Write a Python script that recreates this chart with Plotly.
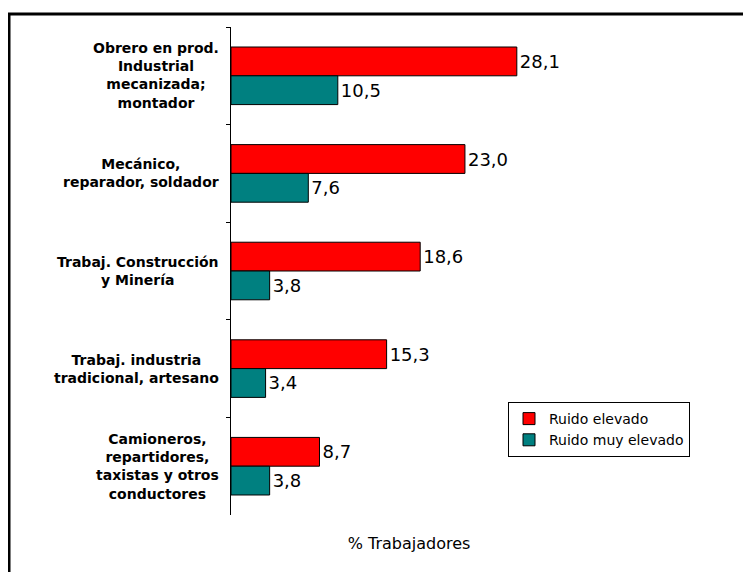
import plotly.graph_objects as go

categories = [
    "Obrero en prod.<br>Industrial<br>mecanizada;<br>montador",
    "Mecánico,<br>reparador, soldador",
    "Trabaj. Construcción<br>y Minería",
    "Trabaj. industria<br>tradicional, artesano",
    "Camioneros,<br>repartidores,<br>taxistas y otros<br>conductores",
]
ruido_elevado = [28.1, 23.0, 18.6, 15.3, 8.7]
ruido_muy_elevado = [10.5, 7.6, 3.8, 3.4, 3.8]
series_names = ["Ruido elevado", "Ruido muy elevado"]
x_title = "% Trabajadores"

def fmt(v):
    return f"{v:.1f}".replace(".", ",")

# page body has an 8px margin, so the figure is 8px smaller than the window
W, H = 743, 564
ML, MR, MT, MB = 223, 164, 19, 57
pw = W - ML - MR
ph = H - MT - MB

fig = go.Figure()
for name, vals, col in [(series_names[0], ruido_elevado, "#FF0000"),
                        (series_names[1], ruido_muy_elevado, "#008080")]:
    fig.add_trace(go.Bar(
        y=categories, x=vals, name=name, orientation="h",
        marker=dict(color=col, line=dict(color="#000000", width=1)),
        text=[fmt(v) for v in vals], textposition="outside",
        textfont=dict(family="DejaVu Sans", size=18, color="#000000"),
        cliponaxis=False,
    ))

fig.update_layout(
    width=W, height=H,
    margin=dict(l=ML, r=MR, t=MT, b=MB),
    paper_bgcolor="white", plot_bgcolor="white",
    barmode="group", bargap=0.41, bargroupgap=0,
    font=dict(family="DejaVu Sans", color="#000000"),
    legend=dict(
        x=(508 - 8 - ML) / pw, y=(H - MB - (402 - 8)) / ph, xanchor="left", yanchor="top",
        bordercolor="#000000", borderwidth=1, bgcolor="white",
        font=dict(family="DejaVu Sans", size=14),
        tracegroupgap=0, itemwidth=30,
    ),
    showlegend=True,
)
fig.update_xaxes(
    range=[0, 35], showline=False, showgrid=False, zeroline=False,
    showticklabels=False, ticks="",
    title=dict(text=x_title, font=dict(family="DejaVu Sans", size=16), standoff=22),
)
fig.update_yaxes(
    autorange="reversed", showline=True, linecolor="#000000", linewidth=1,
    ticks="outside", tickson="boundaries", ticklen=4, tickcolor="#000000",
    showticklabels=False, showgrid=False,
)

for c in categories:
    fig.add_annotation(
        x=-10 / pw, xref="paper", xanchor="right", y=c, yref="y",
        text=f"<b>{c}</b>", showarrow=False, align="center",
        font=dict(family="DejaVu Sans", size=14, color="#000000"),
    )

# outer frame (top and left edges visible)
fig.add_shape(type="rect", xref="paper", yref="paper",
              x0=(9 - 8 - ML) / pw, x1=(W + 20 - ML) / pw,
              y0=(H - MB - (H + 20)) / ph, y1=(H - MB - (14 - 8)) / ph,
              line=dict(color="#000000", width=3), fillcolor="rgba(0,0,0,0)", layer="below")

fig.write_html("out.html")
